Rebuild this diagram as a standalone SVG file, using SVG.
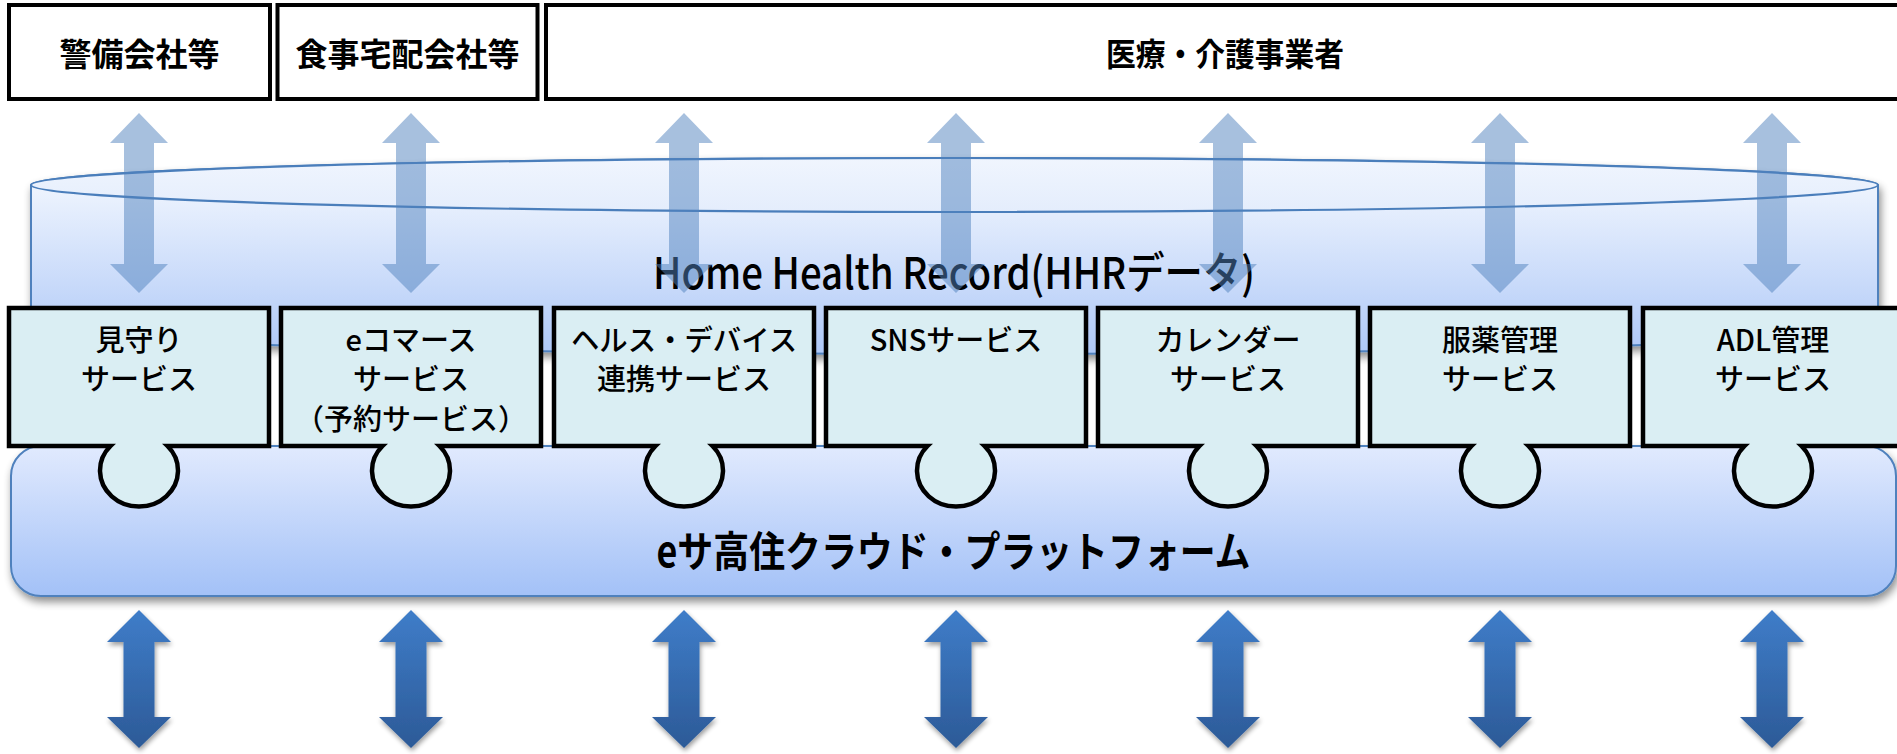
<svg xmlns="http://www.w3.org/2000/svg" xmlns:xlink="http://www.w3.org/1999/xlink" width="1897" height="754" viewBox="0 0 1897 754">
<style>
.org{fill:#ffffff;stroke:#000000;stroke-width:4}
.orgt{font-family:"Noto Sans CJK JP","Noto Sans",sans-serif;font-weight:bold;font-size:32px;fill:#000;text-anchor:middle}
.svc{fill:#DAEEF3;stroke:#000000;stroke-width:4.5;stroke-linejoin:miter}
.svct{font-family:"Noto Sans CJK JP","Noto Sans",sans-serif;font-weight:500;font-size:29px;fill:#000;text-anchor:middle}
.big{font-family:"Noto Sans CJK JP","Noto Sans",sans-serif;fill:#000;text-anchor:middle}
.la{fill:#4F81BD;opacity:0.5}
.da{fill:url(#gDark);filter:url(#shA)}
</style>
<defs>
<linearGradient id="gCyl" x1="0" y1="185" x2="0" y2="354" gradientUnits="userSpaceOnUse">
<stop offset="0" stop-color="#EEF4FE"/>
<stop offset="1" stop-color="#AEC8F7"/>
</linearGradient>
<linearGradient id="gTop" x1="0" y1="158" x2="0" y2="212" gradientUnits="userSpaceOnUse">
<stop offset="0" stop-color="#F0F5FE"/>
<stop offset="1" stop-color="#E4EDFC"/>
</linearGradient>
<linearGradient id="gPlat" x1="0" y1="446" x2="0" y2="596" gradientUnits="userSpaceOnUse">
<stop offset="0" stop-color="#E1EAFE"/>
<stop offset="1" stop-color="#A3C1F7"/>
</linearGradient>
<linearGradient id="gDark" x1="0" y1="610" x2="0" y2="748" gradientUnits="userSpaceOnUse">
<stop offset="0" stop-color="#3F7DC9"/>
<stop offset="1" stop-color="#2C5A97"/>
</linearGradient>
<filter id="sh" x="-5%" y="-20%" width="110%" height="140%">
<feGaussianBlur in="SourceAlpha" stdDeviation="4"/>
<feOffset dx="2" dy="5" result="b"/>
<feComponentTransfer><feFuncA type="linear" slope="0.45"/></feComponentTransfer>
<feMerge><feMergeNode/><feMergeNode in="SourceGraphic"/></feMerge>
</filter>
<filter id="shA" x="-50%" y="-10%" width="200%" height="125%">
<feGaussianBlur in="SourceAlpha" stdDeviation="2.5"/>
<feOffset dx="1" dy="3" result="b"/>
<feComponentTransfer><feFuncA type="linear" slope="0.4"/></feComponentTransfer>
<feMerge><feMergeNode/><feMergeNode in="SourceGraphic"/></feMerge>
</filter>
<path id="lightArrow" d="M0,113 L29,143 L15,143 L15,264 L29,264 L0,293 L-29,264 L-15,264 L-15,143 L-29,143 Z"/>
<path id="darkArrow" d="M0,610 L32,642 L15.5,642 L15.5,717 L32,717 L0,748 L-32,717 L-15.5,717 L-15.5,642 L-32,642 Z"/>
</defs>

<g id="hhr-cylinder">
<path d="M31,185 V327 A923.5 27 0 0 0 1878,327 V185 A923.5 27 0 0 0 31,185 Z" fill="url(#gCyl)" stroke="#4F81BD" stroke-width="2" filter="url(#sh)"/>
<ellipse cx="954.5" cy="185" rx="923.5" ry="27" fill="url(#gTop)" stroke="#4A7EBB" stroke-width="2.2"/>
<text class="big" x="954" y="289" font-size="44" font-weight="500" textLength="602" lengthAdjust="spacingAndGlyphs">Home Health Record(HHRデータ)</text>
</g>

<g id="org-security">
<rect class="org" x="9" y="5" width="261" height="94"/>
<text class="orgt" x="139.5" y="66">警備会社等</text>
</g>
<g id="org-food">
<rect class="org" x="277.5" y="5" width="260" height="94"/>
<text class="orgt" x="407.5" y="66">食事宅配会社等</text>
</g>
<g id="org-medical">
<rect class="org" x="546" y="5" width="1360" height="94"/>
<text class="orgt" x="1225" y="66" textLength="238" lengthAdjust="spacingAndGlyphs">医療・介護事業者</text>
</g>

<g id="platform">
<rect x="11" y="446" width="1885" height="150" rx="30" ry="30" fill="url(#gPlat)" stroke="#4F81BD" stroke-width="2" filter="url(#sh)"/>
<text class="big" x="953.5" y="567" font-size="42" font-weight="bold" textLength="594" lengthAdjust="spacingAndGlyphs">eサ高住クラウド・プラットフォーム</text>
</g>

<g id="svc-mimamori">
<path class="svc" d="M9,308 H269 V446 H167.5 A39 36 0 1 1 110.5,446 H9 Z"/>
<text class="svct" x="139" y="351">見守り</text>
<text class="svct" x="139" y="390">サービス</text>
</g>
<g id="svc-ecommerce">
<path class="svc" d="M281,308 H541 V446 H439.5 A39 36 0 1 1 382.5,446 H281 Z"/>
<text class="svct" x="411" y="351">eコマース</text>
<text class="svct" x="411" y="390">サービス</text>
<text class="svct" x="411" y="430">（予約サービス）</text>
</g>
<g id="svc-health-device">
<path class="svc" d="M554,308 H814 V446 H712.5 A39 36 0 1 1 655.5,446 H554 Z"/>
<text class="svct" x="684" y="351" textLength="226" lengthAdjust="spacingAndGlyphs">ヘルス・デバイス</text>
<text class="svct" x="684" y="390">連携サービス</text>
</g>
<g id="svc-sns">
<path class="svc" d="M826,308 H1086 V446 H984.5 A39 36 0 1 1 927.5,446 H826 Z"/>
<text class="svct" x="956" y="351">SNSサービス</text>
</g>
<g id="svc-calendar">
<path class="svc" d="M1098,308 H1358 V446 H1256.5 A39 36 0 1 1 1199.5,446 H1098 Z"/>
<text class="svct" x="1228" y="351">カレンダー</text>
<text class="svct" x="1228" y="390">サービス</text>
</g>
<g id="svc-medication">
<path class="svc" d="M1370,308 H1630 V446 H1528.5 A39 36 0 1 1 1471.5,446 H1370 Z"/>
<text class="svct" x="1500" y="351">服薬管理</text>
<text class="svct" x="1500" y="390">サービス</text>
</g>
<g id="svc-adl">
<path class="svc" d="M1643,308 H1903 V446 H1801.5 A39 36 0 1 1 1744.5,446 H1643 Z"/>
<text class="svct" x="1773" y="351">ADL管理</text>
<text class="svct" x="1773" y="390">サービス</text>
</g>

<g id="connectors">
<use xlink:href="#lightArrow" href="#lightArrow" class="la" x="139"/>
<use xlink:href="#lightArrow" href="#lightArrow" class="la" x="411"/>
<use xlink:href="#lightArrow" href="#lightArrow" class="la" x="684"/>
<use xlink:href="#lightArrow" href="#lightArrow" class="la" x="956"/>
<use xlink:href="#lightArrow" href="#lightArrow" class="la" x="1228"/>
<use xlink:href="#lightArrow" href="#lightArrow" class="la" x="1500"/>
<use xlink:href="#lightArrow" href="#lightArrow" class="la" x="1772"/>
<use xlink:href="#darkArrow" href="#darkArrow" class="da" x="139"/>
<use xlink:href="#darkArrow" href="#darkArrow" class="da" x="411"/>
<use xlink:href="#darkArrow" href="#darkArrow" class="da" x="684"/>
<use xlink:href="#darkArrow" href="#darkArrow" class="da" x="956"/>
<use xlink:href="#darkArrow" href="#darkArrow" class="da" x="1228"/>
<use xlink:href="#darkArrow" href="#darkArrow" class="da" x="1500"/>
<use xlink:href="#darkArrow" href="#darkArrow" class="da" x="1772"/>
</g>
</svg>
